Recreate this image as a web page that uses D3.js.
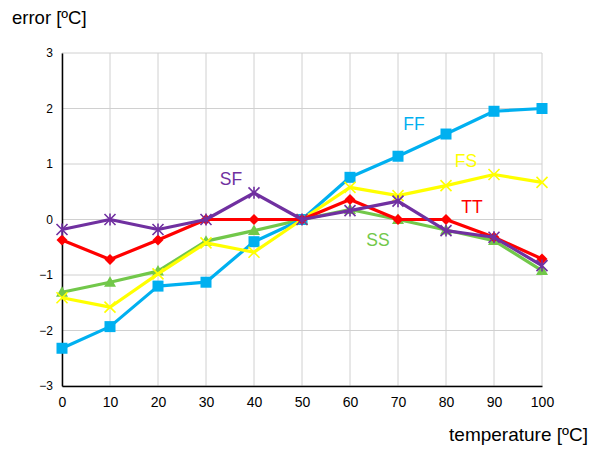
<!DOCTYPE html>
<html>
<head>
<meta charset="utf-8">
<script src="https://cdn.jsdelivr.net/npm/d3@7"></script>
<style>
  body { margin: 0; background: #fff; }
  svg { font-family: "Liberation Sans", Arial, sans-serif; }
</style>
</head>
<body>
<svg id="chart" width="591" height="450"></svg>
<script>
const width = 591;
const height = 450;

// data
const temps = [0, 10, 20, 30, 40, 50, 60, 70, 80, 90, 100];
const ffVals = [-2.32, -1.93, -1.2, -1.13, -0.4, 0, 0.76, 1.14, 1.54, 1.95, 2.0];
const fsVals = [-1.41, -1.58, -0.98, -0.42, -0.59, 0, 0.58, 0.43, 0.61, 0.81, 0.67];
const ttVals = [-0.37, -0.72, -0.37, 0, 0, 0, 0.36, 0, 0, -0.32, -0.71];
const ssVals = [-1.31, -1.13, -0.93, -0.39, -0.2, 0, 0.18, 0, -0.19, -0.38, -0.92];
const sfVals = [-0.18, 0, -0.18, 0, 0.48, 0, 0.16, 0.33, -0.2, -0.32, -0.83];
const yTicks = [-3, -2, -1, 0, 1, 2, 3];

const series = [
  { name: "SS", values: ssVals, color: "#72c84a", marker: "triangle", label: [378, 246] },
  { name: "FF", values: ffVals, color: "#00b0f0", marker: "square", label: [414, 130] },
  { name: "FS", values: fsVals, color: "#ffff00", marker: "x", label: [466, 167] },
  { name: "TT", values: ttVals, color: "#ff0000", marker: "diamond", label: [472, 213] },
  { name: "SF", values: sfVals, color: "#7030a0", marker: "star", label: [231, 185] }
];

const svg = d3.select("#chart");

const x = d3.scaleLinear().domain([0, 100]).range([62, 542]);
const y = d3.scaleLinear().domain([-3, 3]).range([386, 53]);

// grid
svg.append("g")
  .selectAll("line")
  .data(temps)
  .join("line")
  .attr("x1", d => x(d)).attr("x2", d => x(d))
  .attr("y1", y(3)).attr("y2", y(-3))
  .attr("stroke", "#d0d0d0").attr("stroke-width", 1);

svg.append("g")
  .selectAll("line")
  .data(yTicks)
  .join("line")
  .attr("x1", x(0)).attr("x2", x(100))
  .attr("y1", d => y(d)).attr("y2", d => y(d))
  .attr("stroke", "#d0d0d0").attr("stroke-width", 1);

// axes
const xAxis = svg.append("g")
  .attr("transform", `translate(0,${y(-3)})`)
  .call(d3.axisBottom(x).tickValues(temps).tickFormat(d3.format("d")).tickSize(0).tickPadding(11));
xAxis.select(".domain").attr("stroke", "#000").attr("stroke-width", 1.5);
xAxis.selectAll("text").attr("font-size", 14).attr("fill", "#000")
  .attr("font-family", "Liberation Sans, Arial, sans-serif");

const yAxis = svg.append("g")
  .attr("transform", `translate(${x(0)},0)`)
  .call(d3.axisLeft(y).tickValues(yTicks).tickFormat(d3.format("d")).tickSize(0).tickPadding(9));
yAxis.select(".domain").attr("stroke", "#000").attr("stroke-width", 1.5);
yAxis.selectAll("text").attr("font-size", 12).attr("fill", "#000")
  .attr("font-family", "Liberation Sans, Arial, sans-serif");

// axis titles
svg.append("text")
  .attr("x", 12).attr("y", 24)
  .attr("font-size", 18.5)
  .text("error [ºC]");

svg.append("text")
  .attr("x", 588).attr("y", 441)
  .attr("text-anchor", "end")
  .attr("font-size", 19)
  .text("temperature [ºC]");

// lines + markers
const line = d3.line()
  .x((d, i) => x(temps[i]))
  .y(d => y(d));

function drawMarker(g, kind, color) {
  if (kind === "square") {
    g.append("rect").attr("x", -5.5).attr("y", -5.5).attr("width", 11).attr("height", 11)
      .attr("fill", color);
  } else if (kind === "diamond") {
    g.append("path").attr("d", "M0,-5.5L5.5,0L0,5.5L-5.5,0Z").attr("fill", color);
  } else if (kind === "triangle") {
    g.append("path").attr("d", "M0,-6L6,4.5L-6,4.5Z").attr("fill", color);
  } else if (kind === "x") {
    g.append("path").attr("d", "M-5.5,-5.5L5.5,5.5M-5.5,5.5L5.5,-5.5")
      .attr("stroke", color).attr("stroke-width", 1.6);
  } else if (kind === "star") {
    g.append("path").attr("d", "M-5.5,-5.5L5.5,5.5M-5.5,5.5L5.5,-5.5M0,-6L0,6")
      .attr("stroke", color).attr("stroke-width", 1.6);
  }
}

series.forEach(s => {
  const g = svg.append("g");
  g.append("path")
    .datum(s.values)
    .attr("d", line)
    .attr("fill", "none")
    .attr("stroke", s.color)
    .attr("stroke-width", 3.2)
    .attr("stroke-linejoin", "round");

  g.selectAll("g.m")
    .data(s.values)
    .join("g")
    .attr("class", "m")
    .attr("transform", (d, i) => `translate(${x(temps[i])},${y(d)})`)
    .each(function() { drawMarker(d3.select(this), s.marker, s.color); });
});

// series labels
svg.append("g")
  .selectAll("text")
  .data(series)
  .join("text")
  .attr("x", d => d.label[0])
  .attr("y", d => d.label[1])
  .attr("text-anchor", "middle")
  .attr("font-size", 17.5)
  .attr("fill", d => d.color)
  .text(d => d.name);
</script>
</body>
</html>
